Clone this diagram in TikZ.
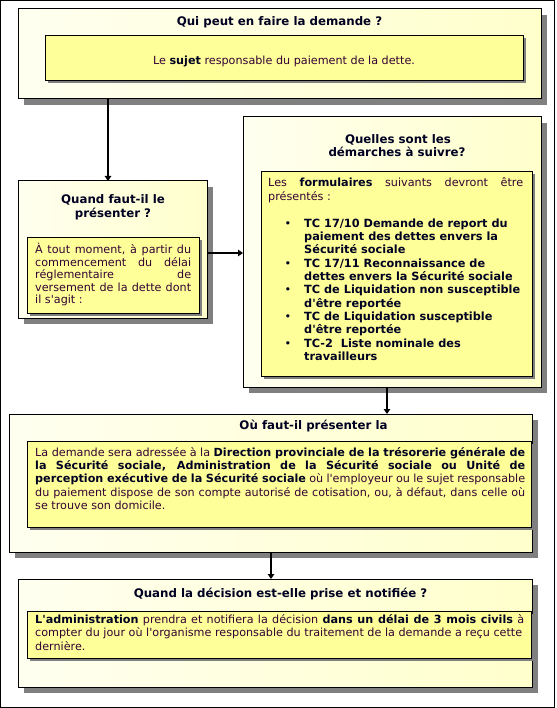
\documentclass[tikz,border=0pt]{standalone}
\usepackage{fontspec}
\setmainfont{DejaVu Sans}[Ligatures=TeXOff]
\usetikzlibrary{arrows.meta,shadows}
\definecolor{outerA}{HTML}{FFFFF0}
\definecolor{outerB}{HTML}{FFFFCC}
\definecolor{innerfill}{HTML}{FFFF99}
\definecolor{shadowgray}{HTML}{808080}
\definecolor{bodycol}{HTML}{330033}
\definecolor{headcol}{HTML}{000022}
\newcommand\bodyfnt{\fontsize{11.2}{13.4}\selectfont}
\newcommand\headfnt{\fontsize{11.8}{14}\selectfont\bfseries}
\newcommand\itemfnt{\fontsize{11.3}{13.3}\selectfont\bfseries}
\newcommand\bb[1]{\textbf{\color{headcol}#1}}
\tikzset{
  outerbox/.style={draw=black, line width=1pt, left color=outerA, right color=outerB,
    anchor=north west, inner sep=0pt, outer sep=0pt,
    general shadow={fill=shadowgray, shadow xshift=6pt, shadow yshift=-6pt}},
  innerbox/.style={draw=black, line width=1pt, fill=innerfill,
    anchor=north west, inner sep=0pt, outer sep=0pt,
    general shadow={fill=shadowgray, shadow xshift=2.5pt, shadow yshift=-2.5pt}},
  headtxt/.style={anchor=base, inner sep=0pt, text=headcol, font=\headfnt},
  bodytxt/.style={anchor=base west, inner sep=0pt, text=bodycol, font=\bodyfnt},
  itemtxt/.style={anchor=base west, inner sep=0pt, text=headcol, font=\itemfnt},
  bullettxt/.style={anchor=base, inner sep=0pt, text=headcol, font=\bodyfnt},
  arr/.style={draw=black, line width=1.8pt, -{Triangle[length=5pt,width=6.5pt]}}
}
\begin{document}
\begin{tikzpicture}[x=1pt,y=-1pt]
\useasboundingbox (0,0) rectangle (556,708);
\draw[line width=1.3pt] (0.65,0.65) rectangle (554.6,707.35);

% boxes
\node[outerbox, minimum width=523pt, minimum height=90pt] (b1) at (18,9) {};
\node[innerbox, minimum width=478pt, minimum height=45pt] (i1) at (45,36) {};

\node[outerbox, minimum width=189pt, minimum height=137pt] (b2) at (18,181) {};
\node[innerbox, minimum width=172pt, minimum height=75pt] (i2) at (27,238) {};

\node[outerbox, minimum width=298pt, minimum height=270pt] (b3) at (243,117) {};
\node[innerbox, minimum width=271pt, minimum height=204pt] (i3) at (261,172) {};

\node[outerbox, minimum width=523pt, minimum height=138pt] (b4) at (9,414) {};
\node[innerbox, minimum width=504pt, minimum height=86pt] (i4) at (27,441) {};

\node[outerbox, minimum width=514pt, minimum height=108pt] (b5) at (18,579) {};
\node[innerbox, minimum width=504pt, minimum height=47pt] (i5) at (27,611) {};

% box 1 texts
\node[headtxt] (t1) at (279.5,26) {Qui peut en faire la demande ?};
\node[bodytxt, anchor=base] (s1) at (284,65) {Le \bb{sujet} responsable du paiement de la dette.};

% box 2 texts
\node[headtxt] (t2a) at (113,203.3) {Quand faut-il le};
\node[headtxt] (t2b) at (113,217.3) {présenter ?};
\node[bodytxt] (s2a) at (35,253.5) {\makebox[156pt][s]{À tout moment, à partir du}};
\node[bodytxt] (s2b) at (35,266) {\makebox[156pt][s]{commencement du délai}};
\node[bodytxt] (s2c) at (35,278.5) {\makebox[156pt][s]{réglementaire de}};
\node[bodytxt] (s2d) at (35,291) {\makebox[156pt][s]{versement de la dette dont}};
\node[bodytxt] (s2e) at (35,303.5) {il s'agit :};

% box 3 texts
\node[headtxt] (t3a) at (398,143.3) {Quelles sont les};
\node[headtxt] (t3b) at (397,157) {démarches à suivre?};
\node[bodytxt] (s3a) at (268,186.5) {\makebox[255pt][s]{Les \bb{formulaires} suivants devront être}};
\node[bodytxt] (s3b) at (268,200.3) {présentés :};

\node[bullettxt] (d1) at (288,227.3) {•};
\node[itemtxt] (k1a) at (304,227.3) {TC 17/10 Demande de report du};
\node[itemtxt] (k1b) at (304,240.6) {paiement des dettes envers la};
\node[itemtxt] (k1c) at (304,253.9) {Sécurité sociale};
\node[bullettxt] (d2) at (288,267.2) {•};
\node[itemtxt] (k2a) at (304,267.2) {TC 17/11 Reconnaissance de};
\node[itemtxt] (k2b) at (304,280.5) {dettes envers la Sécurité sociale};
\node[bullettxt] (d3) at (288,293.8) {•};
\node[itemtxt] (k3a) at (304,293.8) {TC de Liquidation non susceptible};
\node[itemtxt] (k3b) at (304,307.1) {d'être reportée};
\node[bullettxt] (d4) at (288,320.4) {•};
\node[itemtxt] (k4a) at (304,320.4) {TC de Liquidation susceptible};
\node[itemtxt] (k4b) at (304,333.7) {d'être reportée};
\node[bullettxt] (d5) at (288,347) {•};
\node[itemtxt] (k5a) at (304,347) {TC-2\ \ Liste nominale des};
\node[itemtxt] (k5b) at (304,360.3) {travailleurs};

% box 4 texts
\node[headtxt] (t4) at (313.5,429.3) {Où faut-il présenter la};
\node[bodytxt] (s4a) at (35,456) {\makebox[490pt][s]{La demande sera adressée à la \bb{Direction provinciale de la trésorerie générale de}}};
\node[bodytxt] (s4b) at (35,469.4) {\makebox[490pt][s]{\bb{la Sécurité sociale, Administration de la Sécurité sociale ou Unité de}}};
\node[bodytxt] (s4c) at (35,482.8) {\makebox[490pt][s]{\bb{perception exécutive de la Sécurité sociale} où l'employeur ou le sujet responsable}};
\node[bodytxt] (s4d) at (35,496.2) {\makebox[490pt][s]{du paiement dispose de son compte autorisé de cotisation, ou, à défaut, dans celle où}};
\node[bodytxt] (s4e) at (35,509.6) {se trouve son domicile.};

% box 5 texts
\node[headtxt] (t5) at (280.5,597.3) {Quand la décision est-elle prise et notifiée ?};
\node[bodytxt] (s5a) at (35,623.3) {\makebox[489pt][s]{\bb{L'administration} prendra et notifiera la décision \bb{dans un délai de 3 mois civils} à}};
\node[bodytxt] (s5b) at (35,636.7) {\makebox[487pt][s]{compter du jour où l'organisme responsable du traitement de la demande a reçu cette}};
\node[bodytxt] (s5c) at (35,650) {dernière.};

% connectors
\coordinate (x1) at (108,0);
\coordinate (y2) at (0,253);
\coordinate (x3) at (387,0);
\coordinate (x4) at (271,0);
\draw[arr] (b1.south -| x1) -- (b2.north -| x1);
\draw[arr] (b2.east |- y2) -- (b3.west |- y2);
\draw[arr] (b3.south -| x3) -- (b4.north -| x3);
\draw[arr] (b4.south -| x4) -- (b5.north -| x4);
\end{tikzpicture}
\end{document}
